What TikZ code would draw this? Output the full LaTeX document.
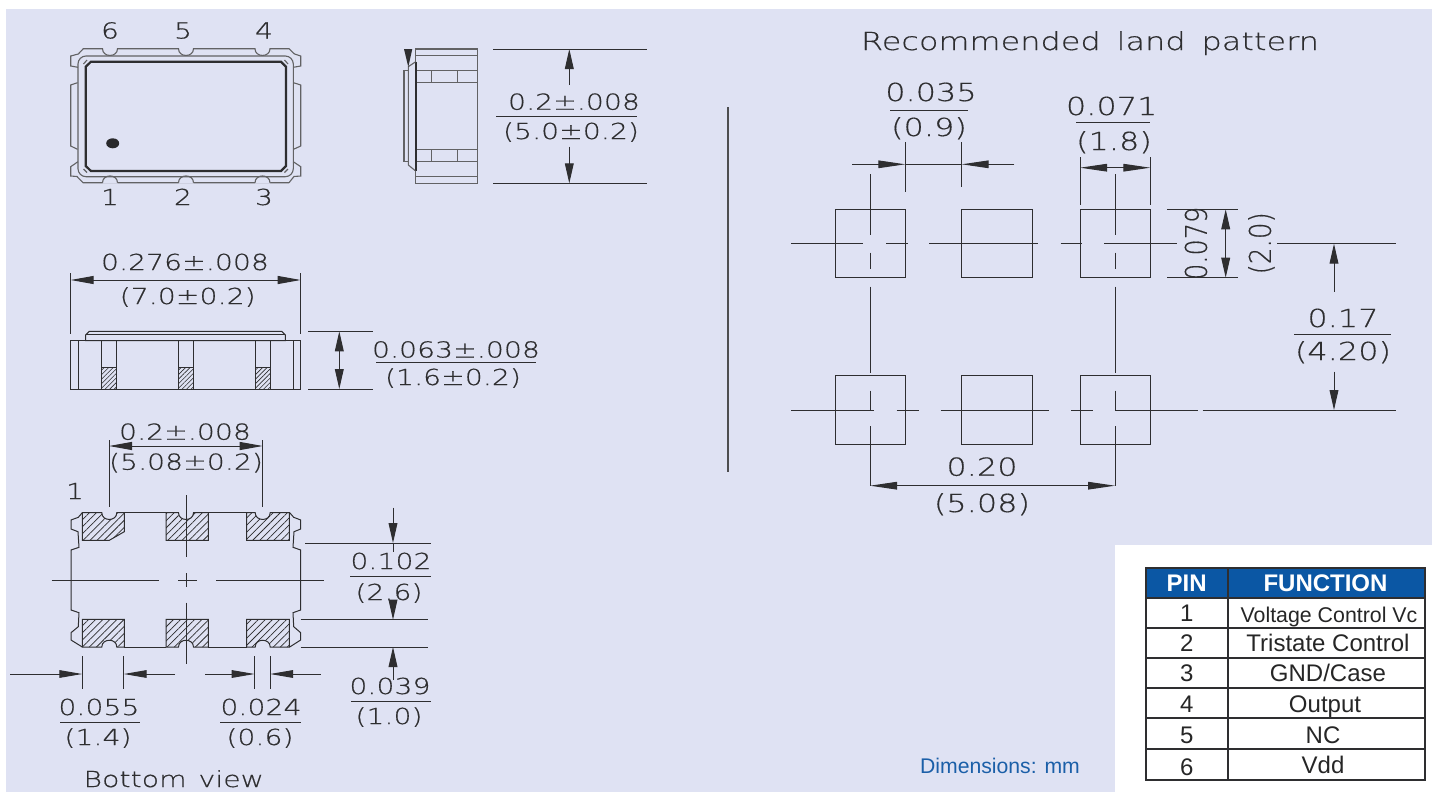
\documentclass[tikz,border=0pt]{standalone}
\usepackage{fontspec}
\setmainfont{Liberation Sans}
\newfontfamily\cadf[FakeStretch=1.28,LetterSpace=0.5,FakeBold=0.5]{DejaVu Sans ExtraLight}
\usetikzlibrary{arrows.meta,patterns.meta}
\definecolor{bgl}{HTML}{DFE2F3}
\definecolor{hdr}{HTML}{0B57A4}
\definecolor{dimblue}{HTML}{1B5FA8}
\definecolor{ink}{HTML}{2E2E30}
\tikzset{
  x=0.5pt,y=-0.5pt,
  ln/.style={draw=ink,line width=0.5pt,line join=miter},
  thin gray/.style={draw=ink!75,line width=0.55pt},
  cad/.style={inner sep=0pt,text=ink,font=\cadf\fontsize{11}{12}\selectfont,text height=8pt,text depth=0pt},
  cadl/.style={inner sep=0pt,text=ink,font=\cadf\fontsize{12.4}{14}\selectfont,text height=9pt,text depth=0pt},
  tbl/.style={inner sep=0pt,text=black!85,font=\fontsize{12}{14}\selectfont,text height=8.6pt,text depth=0pt},
  tblh/.style={inner sep=0pt,text=white,font=\bfseries\fontsize{12}{14}\selectfont,text height=8.6pt,text depth=0pt},
  dimboth/.style={ln,{Triangle[length=11.5pt,width=4pt,sep=0pt]}-{Triangle[length=11.5pt,width=4pt,sep=0pt]}},
  dimland/.style={ln,{Triangle[length=13.5pt,width=3.8pt,sep=0pt]}-{Triangle[length=13.5pt,width=3.8pt,sep=0pt]}},
  dimvert/.style={ln,{Triangle[length=10pt,width=4.4pt,sep=0pt]}-{Triangle[length=10pt,width=4.4pt,sep=0pt]}},
  dimto/.style={ln,-{Triangle[length=10pt,width=4.4pt,sep=0pt]}},
  dimtoh/.style={ln,-{Triangle[length=11.5pt,width=3.8pt,sep=0pt]}},
  dimtol/.style={ln,-{Triangle[length=13.5pt,width=3.8pt,sep=0pt]}},
  hatch/.style={ln,pattern={Lines[angle=45,distance=2.5pt,line width=.36pt]},pattern color=ink},
  hatchs/.style={ln,pattern={Lines[angle=45,distance=1.6pt,line width=.3pt]},pattern color=ink},
}
\newcommand{\ntop}[2]{-- ({#1-7.5},#2) .. controls ({#1-7.5},{#2+9}) and ({#1+7.5},{#2+9}) .. ({#1+7.5},#2)}
\newcommand{\nbot}[2]{-- ({#1+7.5},#2) .. controls ({#1+7.5},{#2-9}) and ({#1-7.5},{#2-9}) .. ({#1-7.5},#2)}
\begin{document}
\begin{tikzpicture}
\useasboundingbox (0,0) rectangle (1432,793);
\fill[white] (0,0) rectangle (1432,793);
\fill[bgl] (5.5,8.5) rectangle (1432,792);
\fill[white] (1115,545) rectangle (1432,793);

% ---------- top view
\draw[thin gray] (78,67.3) -- (70.7,66) -- (70.7,56) -- (78.3,54) -- (83.3,48.7) \ntop{110}{48.7} \ntop{186}{48.7} \ntop{262.5}{48.7} -- (289,48.7) -- (294.5,54) -- (300.7,56) -- (300.7,66) -- (293.3,67.3);
\draw[thin gray] (77.5,82.7) -- (70.7,85) -- (70.7,146) -- (77.5,149.3);
\draw[thin gray] (293.5,82.7) -- (300.7,85) -- (300.7,146) -- (293.5,149.3);
\draw[thin gray] (78,161.7) -- (70.7,166.7) -- (70.7,176) -- (77,176.5) -- (83,182.7) -- (289,182.7);
\fill[bgl] (102.5,183.5) rectangle (117.5,181.5) (178.5,183.5) rectangle (193.5,181.5) (255,183.5) rectangle (270,181.5);
\draw[thin gray] (293.3,161.7) -- (300.7,166.7) -- (300.7,176) -- (294,176.5) -- (289,182.7);
\foreach \cx in {110,186,262.5}{
  \draw[thin gray] ({\cx-7.5},182.7) .. controls ({\cx-7.5},173.7) and ({\cx+7.5},173.7) .. ({\cx+7.5},182.7);
}
\draw[thin gray,rounded corners=4pt] (78,56) rectangle (293.3,176.7);
\draw[draw=ink,line width=1.1pt] (91,61.7) -- (281,61.7) -- (286,66.7) -- (286,166) -- (281,171) -- (91,171) -- (85.7,166) -- (85.7,66.7) -- cycle;
\draw[thin gray] (87,60) -- (83.5,64) (284.5,60) -- (288,64) (87,172.5) -- (83.5,169) (284.5,172.5) -- (288,169);
\fill[ink!90!black] (112.7,143.3) ellipse [x radius=6.5,y radius=5];
\node[cad] (t6) at (110,30.5) {6};
\node[cad] (t5) at (183,30.5) {5};
\node[cad] (t4) at (264,30.5) {4};
\node[cad] (t1) at (110,197) {1};
\node[cad] (t2) at (183,197) {2};
\node[cad] (t3) at (264,197) {3};

% ---------- end view
\draw[thin gray] (415.3,49) rectangle (477.7,183.3);
\draw[thin gray] (415.3,55.7) -- (477.7,55.7) (415.3,176.7) -- (477.7,176.7);
\draw[thin gray] (415.3,70.7) -- (477.7,70.7) (415.3,82.7) -- (477.7,82.7) (431.7,70.7) -- (431.7,82.7) (457.7,70.7) -- (457.7,82.7);
\draw[thin gray] (415.3,149.3) -- (477.7,149.3) (415.3,161.3) -- (477.7,161.3) (431.7,149.3) -- (431.7,161.3) (457.7,149.3) -- (457.7,161.3);
\draw[draw=ink,line width=1.1pt] (415.6,61.7) -- (415.6,170.7);
\draw[thin gray] (415.3,62) -- (408.3,66.7) -- (408.3,165) -- (415.3,170.7);
\draw[thin gray] (408.3,70.7) -- (404,70.7) -- (404,161.3) -- (408.3,161.3);
\fill[ink] (404,49) -- (412.3,49) -- (408.3,67) -- cycle;
\draw[ln] (493,49) -- (646.7,49) (493,183.3) -- (646.7,183.3);
\draw[dimto] (569.3,85) -- (569.3,49);
\draw[dimto] (569.3,146.7) -- (569.3,183.3);
\node[cad] (a1) at (574,101.7) {0.2±.008};
\draw[ln] (496,116.3) -- (637,116.3);
\node[cad] (a2) at (571,131) {(5.0±0.2)};

% ---------- side view
\draw[ln] (70.7,273) -- (70.7,334) (300.7,273) -- (300.7,334);
\draw[dimboth] (70.7,280) -- (300.7,280);
\node[cad] (b1) at (185,262) {0.276±.008};
\node[cad] (b2) at (187.7,296) {(7.0±0.2)};
\draw[ln] (70.7,340) rectangle (300.7,389);
\draw[ln] (78.3,340) -- (78.3,389) (293.3,340) -- (293.3,389);
\fill[bgl] (85.7,341) rectangle (285.3,331);
\draw[ln] (85.7,340.7) -- (85.7,335) -- (89.3,331.3) -- (281.7,331.3) -- (285.3,335) -- (285.3,340.7) -- cycle;
\draw[ln] (85.7,334.5) -- (285.3,334.5);
\foreach \xa/\xb in {101.7/116.7,178.7/193.3,255/270}{
  \draw[ln] (\xa,341) -- (\xa,389) (\xb,341) -- (\xb,389);
  \draw[hatchs] (\xa,367.3) rectangle (\xb,389);
}
\draw[ln] (308,331.3) -- (373,331.3) (308,389) -- (373,389);
\draw[dimvert] (339.3,331.3) -- (339.3,389);
\node[cad] (b3) at (456,349.5) {0.063±.008};
\draw[ln] (376,362.5) -- (536,362.5);
\node[cad] (b4) at (453,377) {(1.6±0.2)};

% ---------- bottom view
\draw[ln] (109,440) -- (109,506.7) (262.7,440) -- (262.7,506.7);
\draw[dimboth] (109,446) -- (262.7,446);
\node[cad] (c1) at (185,431.7) {0.2±.008};
\node[cad] (c2) at (186,461.7) {(5.08±0.2)};
\node[cad] (c3) at (75,491) {1};
% outline
\draw[ln] (124.3,512.7) -- (166,512.7) (208.3,512.7) -- (246.7,512.7) (124.3,647) -- (166,647) (208.3,647) -- (246.7,647);
\draw[ln] (82.3,512.7) -- (78.3,517.3) -- (71,520) -- (71,529) -- (78,531.7) -- (79,547.3) -- (71,550) -- (71,610) -- (79,612.7) -- (78.3,626.7) -- (71,632.7) -- (71,640) -- (82.3,647);
\draw[ln] (289.7,512.7) -- (293.7,517.3) -- (300.7,520) -- (300.7,529) -- (294,531.7) -- (293,547.3) -- (300.7,550) -- (300.7,610) -- (293,612.7) -- (293.7,626.7) -- (300.7,632.7) -- (300.7,640) -- (289.7,647);
% pads
\draw[hatch] (82.3,512.7) \ntop{109.3}{512.7} -- (124.3,512.7) -- (124.3,531.7) -- (109.3,540.3) -- (82.3,540.3) -- cycle;
\draw[hatch] (166,512.7) \ntop{186}{512.7} -- (208.3,512.7) -- (208.3,540.3) -- (166,540.3) -- cycle;
\draw[hatch] (246.7,512.7) \ntop{262.7}{512.7} -- (289.3,512.7) -- (289.3,540.3) -- (246.7,540.3) -- cycle;
\draw[hatch] (82.3,619.3) -- (124.3,619.3) -- (124.3,647) \nbot{109.3}{647} -- (82.3,647) -- cycle;
\draw[hatch] (166,619.3) -- (208.3,619.3) -- (208.3,647) \nbot{186}{647} -- (166,647) -- cycle;
\draw[hatch] (246.7,619.3) -- (289.3,619.3) -- (289.3,647) \nbot{262.7}{647} -- (246.7,647) -- cycle;
% centre lines
\draw[ln] (51.7,580) -- (159.3,580) (178.3,580) -- (197.3,580) (216,580) -- (324,580);
\draw[ln] (186,495) -- (186,557.3) (186,573.3) -- (186,587.3) (186,602.7) -- (186,664.3);
% right dims
\draw[ln] (305,543) -- (431,543) (300.7,619.7) -- (427.7,619.7) (300.7,647) -- (427.7,647);
\draw[dimto] (393,507.7) -- (393,543);
\draw[ln] (393,543) -- (393,552);
\draw[dimto] (393,600) -- (393,619.7);
\draw[dimto] (393,680) -- (393,647);
\node[cad] (d1) at (391,561) {0.102};
\draw[ln] (350,576.7) -- (431,576.7);
\node[cad] (d2) at (389,592) {(2.6)};
\node[cad] (d3) at (390,686) {0.039};
\draw[ln] (351,701) -- (431,701);
\node[cad] (d4) at (389,716) {(1.0)};
% bottom dims
\draw[ln] (82.3,656) -- (82.3,689) (123.7,656) -- (123.7,689) (254.7,656) -- (254.7,689) (270,656) -- (270,689);
\draw[dimtoh] (10,674) -- (82.3,674);
\draw[dimtoh] (175,674) -- (123.7,674);
\draw[dimtoh] (205,674) -- (254.7,674);
\draw[dimtoh] (320.7,674) -- (270,674);
\node[cad] (e1) at (99,707) {0.055};
\draw[ln] (60,722.3) -- (139.7,722.3);
\node[cad] (e2) at (98,737) {(1.4)};
\node[cad] (e3) at (261,707) {0.024};
\draw[ln] (220,722.3) -- (301,722.3);
\node[cad] (e4) at (260,737) {(0.6)};
\node[cad] (e5) at (173.7,779) {Bottom\hspace{6pt}view};

% ---------- separator
\draw[draw=ink!85,line width=1pt] (728,107) -- (728,472);

% ---------- land pattern
\node[cadl] (title) at (1090,41) {Recommended\hspace{8pt}land\hspace{8pt}pattern};
\foreach \xa/\xb in {835/905.3,961.7/1032,1080/1150.3}{
  \draw[ln] (\xa,209.3) rectangle (\xb,277.7);
  \draw[ln] (\xa,375) rectangle (\xb,444.3);
}
% centre lines, upper row
\draw[ln] (791,243.7) -- (863.3,243.7) (886,243.7) -- (907.7,243.7) (929,243.7) -- (1038.3,243.7) (1060.7,243.7) -- (1082.3,243.7) (1104.3,243.7) -- (1176.7,243.7);
% centre lines, lower row
\draw[ln] (791,410) -- (874.4,410) (896.5,410) -- (918.6,410) (940.7,410) -- (1049,410) (1071.3,410) -- (1093.4,410) (1115,410) -- (1197.8,410);
\foreach \cx in {870,1115}{
  \draw[ln] (\cx,174) -- (\cx,235) (\cx,252.7) -- (\cx,269.3) (\cx,286.7) -- (\cx,372.7) (\cx,390.7) -- (\cx,410) (\cx,426) -- (\cx,485.7);
}
% 0.035
\draw[ln] (905.3,142) -- (905.3,191.7) (961.7,142) -- (961.7,187.3);
\draw[dimtol] (852.3,164.3) -- (905.3,164.3);
\draw[dimtol] (1014.3,164.3) -- (961.7,164.3);
\draw[ln] (905.3,164.3) -- (961.7,164.3);
\node[cadl] (f1) at (931,92) {0.035};
\draw[ln] (890,110) -- (968,110);
\node[cadl] (f2) at (929,127) {(0.9)};
% 0.071
\draw[ln] (1080,157.3) -- (1080,205) (1150.3,157.3) -- (1150.3,205);
\draw[dimland] (1080,167.7) -- (1150.3,167.7);
\node[cadl] (g1) at (1111.7,106) {0.071};
\draw[ln] (1076,122.7) -- (1150,122.7);
\node[cadl] (g2) at (1114,141) {(1.8)};
% 0.079
\draw[ln] (1167.3,209.3) -- (1237.7,209.3) (1167.3,277.7) -- (1237.7,277.7);
\draw[dimvert] (1225.7,209.3) -- (1225.7,277.7);
\node[cadl,rotate=90,text height=10.8pt] (h1) at (1196,243.3) {\scalebox{0.8}[1.2]{0.079}};
\node[cadl,rotate=90,text height=10.8pt] (h2) at (1260,243.3) {\scalebox{0.82}[1.2]{(2.0)}};
% 0.17
\draw[ln] (1277.3,243.7) -- (1395.7,243.7) (1202.7,410) -- (1396,410);
\draw[dimto] (1334,291.7) -- (1334,243.7);
\draw[dimto] (1334,371.7) -- (1334,410);
\node[cadl] (i1) at (1343,318) {0.17};
\draw[ln] (1294,334) -- (1391,334);
\node[cadl] (i2) at (1343,351) {(4.20)};
% 0.20
\draw[dimland] (870,485.7) -- (1115,485.7);
\node[cadl] (j1) at (982,466.7) {0.20};
\node[cadl] (j2) at (982,503) {(5.08)};

% ---------- dimensions note
\node[inner sep=0pt,text=dimblue,font=\fontsize{10.6}{13}\selectfont,text height=8pt,text depth=0pt] (dn) at (1000,765) {Dimensions: mm};

% ---------- table
\fill[hdr] (1145.7,567.7) rectangle (1425,597.7);
\draw[draw=ink,line width=0.8pt] (1145.7,567.7) rectangle (1425,780);
\draw[draw=ink,line width=0.8pt] (1227.7,567.7) -- (1227.7,780);
\foreach \yy in {597.7,627.7,658,688,718,748.7}{
  \draw[draw=ink,line width=0.8pt] (1145.7,\yy) -- (1425,\yy);
}
\node[tblh] (th1) at (1186.7,582.7) {PIN};
\node[tblh] (th2) at (1325.5,582.7) {FUNCTION};
\node[tbl] (r1a) at (1186.7,613) {1};
\node[tbl,font=\fontsize{10.67}{13}\selectfont] (r1b) at (1329,614) {Voltage Control Vc};
\node[tbl] (r2a) at (1186.7,643) {2};
\node[tbl] (r2b) at (1328,643) {Tristate Control};
\node[tbl] (r3a) at (1186.7,673) {3};
\node[tbl] (r3b) at (1328,673) {GND/Case};
\node[tbl] (r4a) at (1186.7,704) {4};
\node[tbl] (r4b) at (1325,704) {Output};
\node[tbl] (r5a) at (1186.7,735) {5};
\node[tbl] (r5b) at (1323,735) {NC};
\node[tbl] (r6a) at (1186.7,767) {6};
\node[tbl] (r6b) at (1323,765) {Vdd};
\end{tikzpicture}
\end{document}
